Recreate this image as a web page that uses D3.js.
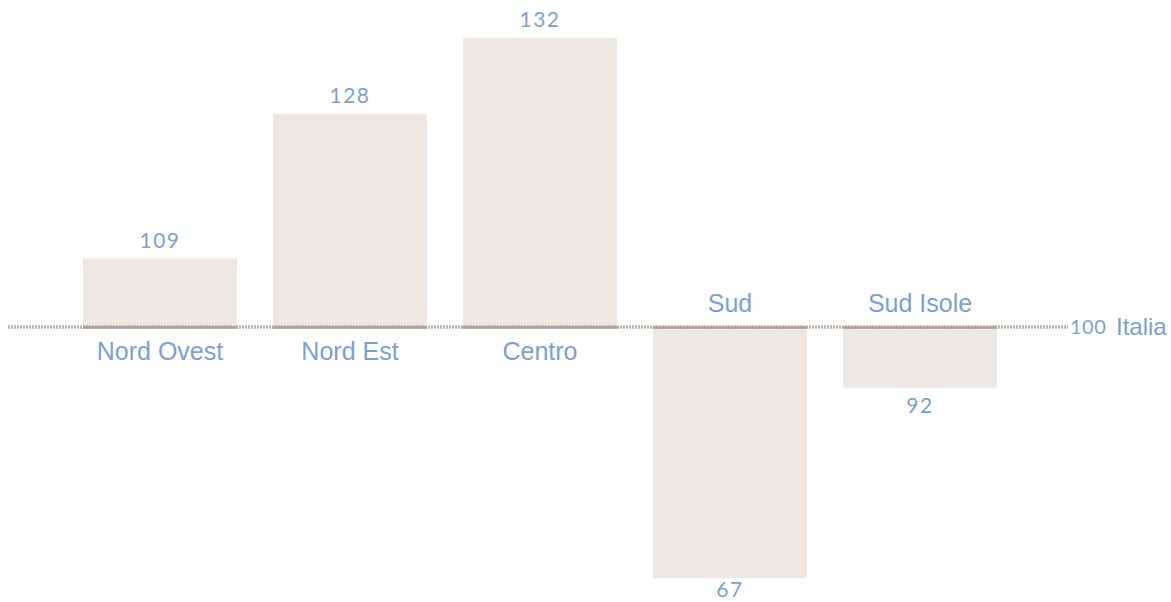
<!DOCTYPE html>
<html>
<head>
<meta charset="utf-8">
<script src="https://cdn.jsdelivr.net/npm/d3@7"></script>
<style>
  html, body { margin: 0; padding: 0; background: #fff; }
  svg { display: block; }
</style>
</head>
<body>
<div id="chart"></div>
<script>
// ── Data ─────────────────────────────────
const regions = ['Nord Ovest', 'Nord Est', 'Centro', 'Sud', 'Sud Isole'];
const valueLabels = ['109', '128', '132', '67', '92'];
// bar lengths as drawn in the picture (index, Italia = 100)
const barValues = [109, 128, 138, 67, 92];
const baseValue = 100;
const baseLabel = '100';
const baseName = 'Italia';

// ── Setup ────────────────────────────────
const W = 1171, H = 602;
const blue = '#7c9fd6';
const svg = d3.select('#chart').append('svg').attr('width', W).attr('height', H);

const x = d3.scaleBand().domain(regions).range([65, 1015]).paddingInner(0.19).paddingOuter(0.095);
const y = d3.scaleLinear().domain([67, 100]).range([578, 327]);

const data = regions.map((r, i) => ({ r, v: barValues[i], lab: valueLabels[i] }));

// Bars
const bars = svg.append('g');
bars.selectAll('rect').data(data).join('rect')
  .attr('x', d => x(d.r))
  .attr('y', d => Math.min(y(d.v), y(baseValue)))
  .attr('width', x.bandwidth())
  .attr('height', d => Math.abs(y(d.v) - y(baseValue)))
  .attr('fill', '#ece7e3');

// jagged outer edge of bars
bars.selectAll('line.edge').data(data).join('line')
  .attr('class', 'edge')
  .attr('x1', d => x(d.r)).attr('x2', d => x(d.r) + x.bandwidth())
  .attr('y1', d => y(d.v)).attr('y2', d => y(d.v))
  .attr('stroke', '#f4f1ee').attr('stroke-width', 2).attr('stroke-dasharray', '2,2');

// Baseline (Italia = 100)
const yb = y(baseValue);
svg.append('line')
  .attr('x1', 8).attr('x2', 1068).attr('y1', yb).attr('y2', yb)
  .attr('stroke', '#c2b3aa').attr('stroke-width', 3.5).attr('stroke-dasharray', '2,1');
svg.append('g').selectAll('line').data(data).join('line')
  .attr('x1', d => x(d.r)).attr('x2', d => x(d.r) + x.bandwidth())
  .attr('y1', yb + 0.5).attr('y2', yb + 0.5)
  .attr('stroke', '#ad9f96').attr('stroke-width', 2.5);

// Category labels
svg.append('g').selectAll('text').data(data).join('text')
  .attr('x', d => x(d.r) + x.bandwidth() / 2)
  .attr('y', d => d.v >= baseValue ? yb + 33 : yb - 15)
  .attr('text-anchor', 'middle')
  .attr('font-family', 'Liberation Sans, Arial, sans-serif')
  .attr('font-size', 25)
  .attr('fill', blue)
  .text(d => d.r);

// Value labels
svg.append('g').selectAll('text').data(data).join('text')
  .attr('x', d => x(d.r) + x.bandwidth() / 2)
  .attr('y', d => d.v >= baseValue ? y(d.v) - 11 : Math.min(y(d.v) + 25, 597))
  .attr('text-anchor', 'middle')
  .attr('font-family', 'Lato, DejaVu Sans, sans-serif')
  .attr('font-size', 21)
  .attr('letter-spacing', 1.5)
  .attr('fill', blue)
  .text(d => d.lab);

// Italia marker
svg.append('text')
  .attr('x', 1070).attr('y', yb + 7)
  .attr('font-family', 'Lato, DejaVu Sans, sans-serif')
  .attr('font-size', 20).attr('letter-spacing', 0.5)
  .attr('fill', blue).text(baseLabel);
svg.append('text')
  .attr('x', 1116).attr('y', yb + 8)
  .attr('font-family', 'Liberation Sans, Arial, sans-serif')
  .attr('font-size', 24)
  .attr('fill', blue).text(baseName);
</script>
</body>
</html>
